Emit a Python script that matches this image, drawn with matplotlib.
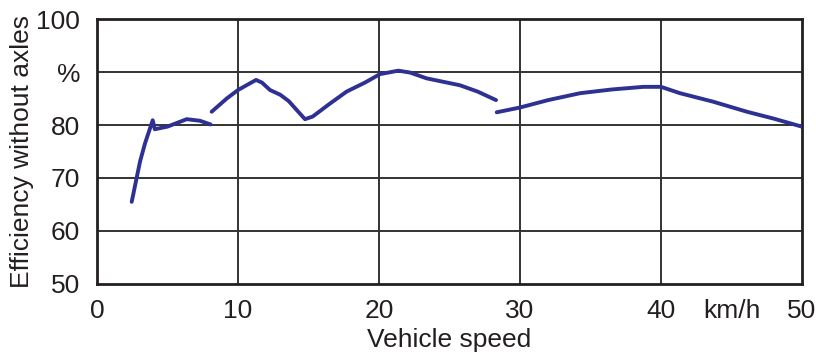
import matplotlib
matplotlib.use("Agg")
import matplotlib.pyplot as plt

plt.rcParams['font.family'] = ['Liberation Sans Narrow', 'Liberation Sans', 'DejaVu Sans']

# Efficiency curve, three gear ranges (speed km/h, efficiency %)
speed_1 = [2.46, 3.05, 3.4, 3.95, 4.1, 5.0, 6.36, 7.3, 8.06]
eff_1 = [65.5, 73.1, 76.5, 80.9, 79.2, 79.7, 81.1, 80.8, 80.1]

speed_2 = [8.13, 9.2, 10.0, 10.6, 11.28, 11.7, 12.27, 13.0, 13.6, 14.75, 15.3, 16.5,
           17.7, 19.0, 20.07, 21.37, 22.2, 23.38, 25.74, 27.0, 28.3]
eff_2 = [82.5, 85.0, 86.6, 87.5, 88.5, 88.0, 86.6, 85.7, 84.5, 81.1, 81.6, 84.0,
         86.3, 88.0, 89.6, 90.25, 89.9, 88.8, 87.5, 86.3, 84.7]

speed_3 = [28.35, 30.0, 32.0, 34.26, 36.5, 38.75, 40.0, 41.35, 43.7, 46.1, 48.0, 49.98]
eff_3 = [82.4, 83.3, 84.7, 86.0, 86.7, 87.2, 87.2, 86.0, 84.4, 82.5, 81.2, 79.7]

x_ticks = [0, 10, 20, 30, 40, 45, 50]
x_tick_labels = ['0', '10', '20', '30', '40', 'km/h', '50']
y_ticks = [50, 60, 70, 80, 90, 100]
y_tick_labels = ['50', '60', '70', '80', '%', '100']
x_grid = [10, 20, 30, 40]
y_grid = [60, 70, 80, 90]

line_color = '#2E3192'
grid_color = '#333333'
text_color = '#231F20'
font_size = 19

fig = plt.figure(figsize=(8.16, 3.52), dpi=100)
ax = fig.add_axes([0.1189, 0.1932, 0.8639, 0.7528])

for gx in x_grid:
    ax.axvline(gx, color=grid_color, lw=1.4, zorder=1)
for gy in y_grid:
    ax.axhline(gy, color=grid_color, lw=1.4, zorder=1)

for xs, ys in [(speed_1, eff_1), (speed_2, eff_2), (speed_3, eff_3)]:
    ax.plot(xs, ys, color=line_color, lw=2.8, solid_capstyle='round',
            solid_joinstyle='round', zorder=3)

ax.set_xlim(0, 50)
ax.set_ylim(50, 100)
ax.set_xticks(x_ticks)
ax.set_xticklabels(x_tick_labels)
ax.set_yticks(y_ticks)
ax.set_yticklabels(y_tick_labels)
ax.tick_params(length=0, labelsize=font_size, colors=text_color)
ax.tick_params(axis='y', pad=12)
ax.tick_params(axis='x', pad=11)

for sp in ax.spines.values():
    sp.set_linewidth(2.0)
    sp.set_color(text_color)

fig.text(449.5 / 816, 1 - 347 / 352, 'Vehicle speed', fontsize=font_size,
         color=text_color, ha='center', va='baseline')
fig.text(22 / 816, 1 - 151.5 / 352, 'Efficiency without axles', fontsize=font_size,
         color=text_color, ha='center', va='center', rotation=90)

fig.savefig('out.png', dpi=100)
